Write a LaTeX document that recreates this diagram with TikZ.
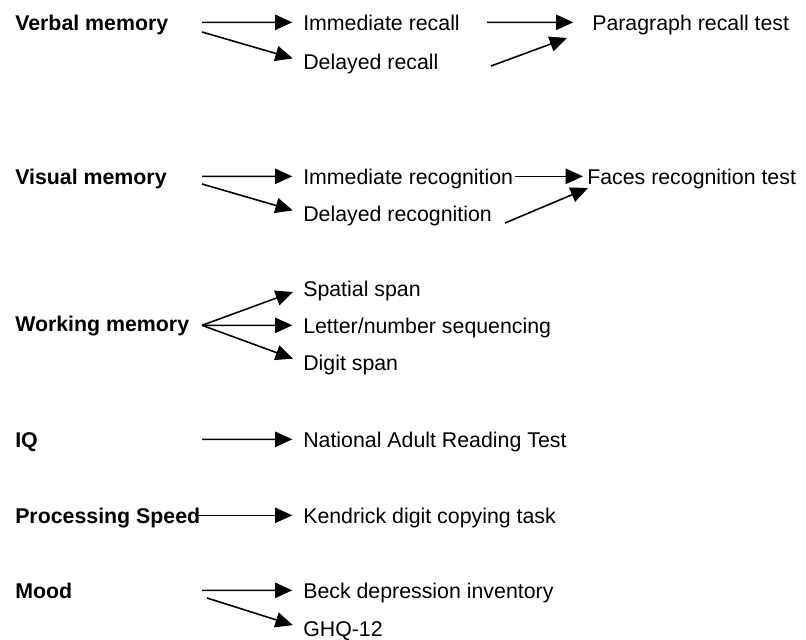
\documentclass[tikz,border=0pt]{standalone}
\usepackage{fontspec}
\setmainfont{Liberation Sans}
\usetikzlibrary{arrows.meta}

\begin{document}
\begin{tikzpicture}[
        x=0.75pt, y=-0.75pt,
        cat/.style  = {anchor=base west, inner sep=0pt, text height=11.5pt, text depth=0pt,
                       font=\bfseries\fontsize{16}{19}\selectfont},
        meas/.style = {cat, font=\fontsize{16}{19}\selectfont},
        arr/.style  = {-{Triangle[length=13pt,width=11.5pt]}, line width=1.2pt},
        tosub/.style = {arr, shorten >=8pt}
    ]
        \useasboundingbox (0,0) rectangle (806,639);
        % verbal memory
        \node[cat]  (vm)  at (15,30)  {Verbal memory};
        \node[meas] (ir)  at (303,30) {Immediate recall};
        \node[meas] (dr)  at (303,69) {Delayed recall};
        \node[meas] (pr)  at (592,30) {Paragraph recall test};
        \coordinate (vm1) at (202,22.3);
        \coordinate (vm2) at (202,32);
        \coordinate (ir1) at (487,22.3);
        \coordinate (dr1) at (491,66);
        \coordinate (pr1) at (567,38);
        \draw[tosub] (vm1) -- (ir.west);
        \draw[tosub] (vm2) -- (dr.west);
        \draw[arr, shorten >=14pt] (ir1) -- (pr.west);
        \draw[arr] (dr1) -- (pr1);
        % visual memory
        \node[cat]  (vim) at (15,184)  {Visual memory};
        \node[meas] (irg) at (303,184) {Immediate recognition};
        \node[meas] (drg) at (303,221) {Delayed recognition};
        \node[meas] (frt) at (587,184) {Faces recognition test};
        \coordinate (vim1) at (202,176.3);
        \coordinate (vim2) at (202,184);
        \coordinate (drg1) at (505,223);
        \coordinate (frt1) at (588,188);
        \draw[tosub] (vim1) -- (irg.west);
        \draw[tosub] (vim2) -- (drg.west);
        \draw[arr, shorten <=1.5pt, shorten >=3pt] (irg.east) -- (frt.west);
        \draw[arr] (drg1) -- (frt1);
        % working memory
        \node[cat]  (wm)  at (15,331)  {Working memory};
        \node[meas] (ss)  at (303,296) {Spatial span};
        \node[meas] (lns) at (303,333) {Letter/number sequencing};
        \node[meas] (ds)  at (303,370) {Digit span};
        \coordinate (wm1) at (202,325.3);
        \draw[tosub] (wm1) -- (ss.west);
        \draw[tosub] (wm1) -- (lns.west);
        \draw[tosub] (wm1) -- (ds.west);
        % IQ
        \node[cat]  (iq)   at (15,447)  {IQ};
        \node[meas] (nart) at (303,447) {National Adult Reading Test};
        \coordinate (iq1) at (202,439.3);
        \draw[tosub] (iq1) -- (nart.west);
        % processing speed
        \node[cat]  (ps)  at (15,523)  {Processing Speed};
        \node[meas] (kdc) at (303,523) {Kendrick digit copying task};
        \draw[tosub, shorten <=-4pt] (ps.east) -- (kdc.west);
        % mood
        \node[cat]  (md)  at (15,598)  {Mood};
        \node[meas] (bdi) at (303,598) {Beck depression inventory};
        \node[meas] (ghq) at (303,636) {GHQ-12};
        \coordinate (md1) at (202,590.3);
        \coordinate (md2) at (207,598);
        \draw[tosub] (md1) -- (bdi.west);
        \draw[tosub] (md2) -- (ghq.west);
    \end{tikzpicture}
\end{document}
